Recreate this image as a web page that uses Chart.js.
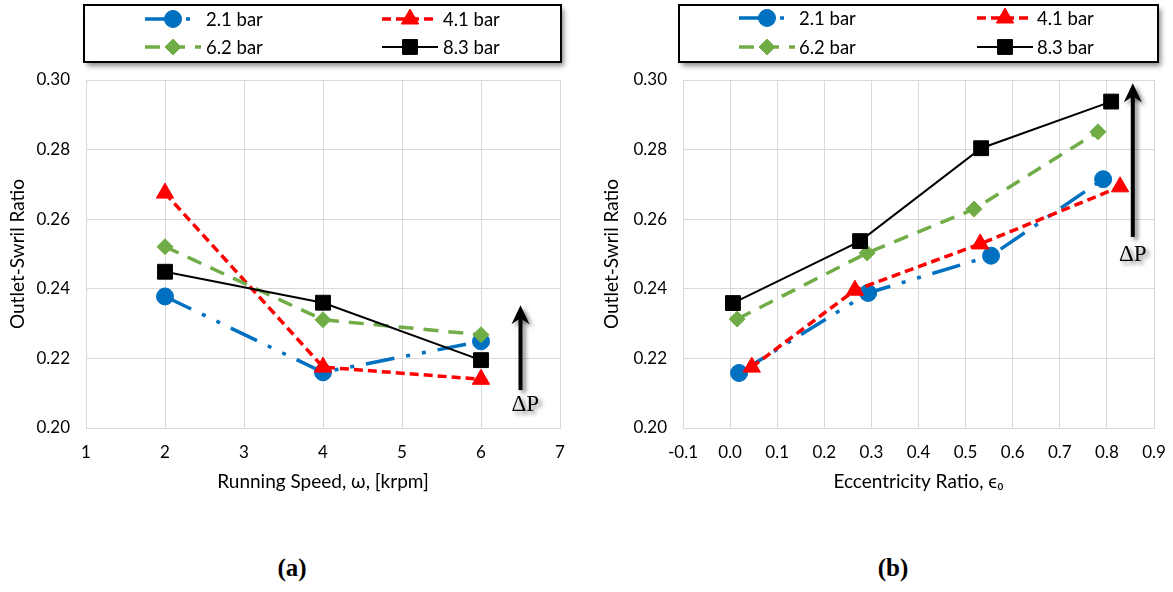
<!DOCTYPE html>
<html>
<head>
<meta charset="utf-8">
<script src="https://cdn.jsdelivr.net/npm/chart.js@4.4.1/dist/chart.umd.min.js"></script>
<style>
  body { margin: 0; background: #fff; width: 1173px; height: 592px; position: relative; overflow: hidden; }
  canvas { position: absolute; top: 0; }
  #chartA { left: 0; }
  #chartB { left: 580px; }
  .tag { position: absolute; top: 554px; width: 80px; text-align: center; font: bold 25px "Liberation Serif", serif; }
</style>
</head>
<body>
<canvas id="chartA" width="580" height="500"></canvas>
<canvas id="chartB" width="593" height="500"></canvas>
<div class="tag" style="left:252px">(a)</div>
<div class="tag" style="left:853px">(b)</div>
<script>
'use strict'
var seriesNames = ['2.1 bar', '4.1 bar', '6.2 bar', '8.3 bar'];

// (a) swirl ratio vs running speed
var speedKrpm = [2, 4, 6];
var swirlSpeed21 = [0.2378, 0.2160, 0.2249];
var swirlSpeed41 = [0.2675, 0.2175, 0.2140];
var swirlSpeed62 = [0.2521, 0.2311, 0.2268];
var swirlSpeed83 = [0.2449, 0.2360, 0.2195];

// (b) swirl ratio vs eccentricity ratio
var ecc21 = [0.019, 0.293, 0.554, 0.792];
var swirlEcc21 = [0.2158, 0.2388, 0.2495, 0.2715];
var ecc41 = [0.046, 0.265, 0.531, 0.828];
var swirlEcc41 = [0.2175, 0.2396, 0.2529, 0.2693];
var ecc62 = [0.015, 0.291, 0.518, 0.781];
var swirlEcc62 = [0.2313, 0.2503, 0.2629, 0.2851];
var ecc83 = [0.006, 0.276, 0.533, 0.809];
var swirlEcc83 = [0.2359, 0.2537, 0.2804, 0.2938];

var FONT = 'Lato, "Liberation Sans", sans-serif';
var colors = ['#0070C0', '#FF0000', '#70AD47', '#000000'];
var widths = [3.5, 3.5, 3.5, 2];
var dashes = [[29, 12, 4, 12, 4, 12], [9, 5], [15, 10], []];
var markers = ['circle', 'triangle', 'rectRot', 'rect'];
var markerSizes = [8.5, 10, 8, 10.5];

function makeDatasets(xLists, yLists) {
  return seriesNames.map(function (name, i) {
    return {
      label: name,
      data: xLists[i].map(function (x, j) { return { x: x, y: yLists[i][j] }; }),
      borderColor: colors[i],
      backgroundColor: colors[i],
      borderWidth: widths[i],
      borderDash: dashes[i],
      pointStyle: markers[i],
      pointRadius: markerSizes[i],
      pointBorderWidth: 1,
      pointBorderColor: colors[i],
      pointBackgroundColor: colors[i],
      order: 4 - i,
      fill: false,
      tension: 0
    };
  });
}

// boxed legend with line samples, drawn above the plot
var legendBox = {
  id: 'legendBox',
  afterDraw: function (chart, args, o) {
    var ctx = chart.ctx;
    ctx.save();
    ctx.shadowColor = 'rgba(0,0,0,0.45)';
    ctx.shadowBlur = 5;
    ctx.shadowOffsetX = 3;
    ctx.shadowOffsetY = 4;
    ctx.fillStyle = '#fff';
    ctx.fillRect(o.box[0], o.box[1], o.box[2], o.box[3]);
    ctx.shadowColor = 'transparent';
    ctx.strokeStyle = '#000';
    ctx.lineWidth = 2;
    ctx.strokeRect(o.box[0], o.box[1], o.box[2], o.box[3]);
    ctx.font = '18.5px ' + FONT;
    ctx.textBaseline = 'middle';
    chart.data.datasets.forEach(function (ds, i) {
      var col = i % 2, row = Math.floor(i / 2);
      var sx = o.cols[col], sy = o.rows[row];
      ctx.save();
      ctx.strokeStyle = ds.borderColor;
      ctx.lineWidth = ds.borderWidth;
      ctx.setLineDash(ds.borderDash);
      ctx.beginPath();
      ctx.moveTo(sx, sy);
      ctx.lineTo(sx + o.sample, sy);
      ctx.stroke();
      ctx.setLineDash([]);
      ctx.fillStyle = ds.backgroundColor;
      ctx.lineWidth = 1;
      Chart.helpers.drawPoint(ctx, { pointStyle: ds.pointStyle, radius: ds.pointRadius, rotation: 0, borderWidth: 1 }, sx + o.sample / 2, sy);
      ctx.restore();
      ctx.fillStyle = '#000';
      ctx.fillText(ds.label, sx + o.sample + o.gap, sy + 1);
    });
    ctx.restore();
  }
};

// vertical arrow with the delta-P label
var deltaArrow = {
  id: 'deltaArrow',
  afterDatasetsDraw: function (chart, args, o) {
    var ctx = chart.ctx, xs = chart.scales.x, ys = chart.scales.y;
    var ax = xs.getPixelForValue(o.x);
    var yTail = ys.getPixelForValue(o.yFrom), yTip = ys.getPixelForValue(o.yTo);
    ctx.save();
    ctx.shadowColor = 'rgba(0,0,0,0.5)';
    ctx.shadowBlur = 4;
    ctx.shadowOffsetX = 3;
    ctx.shadowOffsetY = 3;
    ctx.fillStyle = '#000';
    ctx.fillRect(ax - 2, yTip + 10, 4, yTail - yTip - 10);
    ctx.beginPath();
    ctx.moveTo(ax, yTip);
    ctx.lineTo(ax + 9, yTip + 19);
    ctx.lineTo(ax, yTip + 13);
    ctx.lineTo(ax - 9, yTip + 19);
    ctx.closePath();
    ctx.fill();
    ctx.font = '23px "Liberation Serif", serif';
    ctx.textAlign = 'center';
    ctx.textBaseline = 'middle';
    ctx.fillText('\u0394P', xs.getPixelForValue(o.labelX), ys.getPixelForValue(o.labelY));
    ctx.restore();
  }
};

function buildOptions(cfg) {
  return {
    responsive: false,
    animation: false,
    layout: { padding: { top: 80, right: cfg.padRight, left: 0, bottom: 0 } },
    plugins: {
      legend: { display: false },
      tooltip: { enabled: false },
      legendBox: cfg.legend,
      deltaArrow: cfg.arrow
    },
    scales: {
      x: {
        type: 'linear',
        position: 'bottom',
        min: cfg.xMin,
        max: cfg.xMax,
        afterFit: function (s) { s.height = 72; s.paddingLeft = 0; s.paddingRight = 0; },
        ticks: {
          stepSize: cfg.xStep,
          padding: 14,
          color: '#000',
          font: { family: FONT, size: 17 },
          callback: function (v) { return Number(v).toFixed(cfg.xDec); }
        },
        grid: { color: '#D9D9D9', drawTicks: false },
        border: { color: '#D9D9D9' },
        title: { display: true, text: cfg.xTitle, color: '#000', font: { family: FONT, size: 19 }, padding: { top: 0, bottom: 6.6 } }
      },
      y: {
        min: 0.20,
        max: 0.30,
        afterFit: function (s) { s.width = cfg.yWidth; },
        ticks: {
          stepSize: 0.02,
          padding: 16,
          color: '#000',
          font: { family: FONT, size: 17 },
          callback: function (v) { return Number(v).toFixed(2); }
        },
        grid: { color: '#D9D9D9', drawTicks: false },
        border: { color: '#D9D9D9' },
        title: { display: true, text: 'Outlet-Swril Ratio', color: '#000', font: { family: FONT, size: 19 }, padding: { top: cfg.yTitlePad, bottom: 0 } }
      }
    }
  };
}

new Chart(document.getElementById('chartA'), {
  type: 'line',
  data: {
    datasets: makeDatasets([speedKrpm, speedKrpm, speedKrpm, speedKrpm],
      [swirlSpeed21, swirlSpeed41, swirlSpeed62, swirlSpeed83])
  },
  options: buildOptions({
    xMin: 1, xMax: 7, xStep: 1, xDec: 0, xTitle: 'Running Speed, \u03c9, [krpm]',
    yWidth: 86, padRight: 20, yTitlePad: 6.6,
    legend: { box: [84, 5, 477, 57], cols: [145, 382], rows: [19, 47], sample: 56, gap: 5 },
    arrow: { x: 6.5, yFrom: 0.2109, yTo: 0.2353, labelX: 6.56, labelY: 0.2066 }
  }),
  plugins: [legendBox, deltaArrow]
});

new Chart(document.getElementById('chartB'), {
  type: 'line',
  data: {
    datasets: makeDatasets([ecc21, ecc41, ecc62, ecc83],
      [swirlEcc21, swirlEcc41, swirlEcc62, swirlEcc83])
  },
  options: buildOptions({
    xMin: -0.1, xMax: 0.9, xStep: 0.1, xDec: 1, xTitle: 'Eccentricity Ratio, \u03f5\u2080',
    yWidth: 103, padRight: 19, yTitlePad: 20.6,
    legend: { box: [99, 5, 479, 57], cols: [159, 397], rows: [18, 47], sample: 56, gap: 4 },
    arrow: { x: 0.855, yFrom: 0.2549, yTo: 0.2991, labelX: 0.855, labelY: 0.2497 }
  }),
  plugins: [legendBox, deltaArrow]
});
</script>
</body>
</html>
